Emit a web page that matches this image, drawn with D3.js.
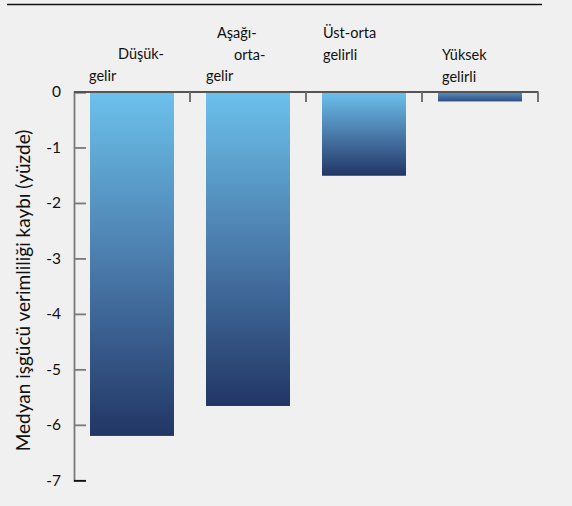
<!DOCTYPE html>
<html>
<head>
<meta charset="utf-8">
<script src="https://cdn.jsdelivr.net/npm/d3@7"></script>
<style>
  html, body { margin: 0; padding: 0; background: #eff0ef; }
  svg { display: block; }
  text { font-family: Lato, "Open Sans", sans-serif; fill: #111; }
</style>
</head>
<body>
<svg id="chart" width="572" height="506"></svg>
<script>
// Income groups, wrapped as in the category labels
const categories = ["Düşük-gelir", "Aşağı-orta-gelir", "Üst-orta gelirli", "Yüksek gelirli"];
const labelLines = [["Düşük-", "gelir"], ["Aşağı-", "orta-", "gelir"], ["Üst-orta", "gelirli"], ["Yüksek", "gelirli"]];
// Median labour productivity loss, percent
const values = [-6.2, -5.66, -1.51, -0.17];
const yTicks = [0, -1, -2, -3, -4, -5, -6, -7];
const yTitle = "Medyan işgücü verimliliği kaybı (yüzde)";

// label line placement inside each band (x offset per line, first baseline)
const labelLayout = [
  { dx: [44, 15], y0: 59 },
  { dx: [27, 44, 16], y0: 38 },
  { dx: [17, 17], y0: 38 },
  { dx: [20, 20], y0: 60 }
];

const svg = d3.select("#chart");

// top rule
svg.append("line")
  .attr("x1", 7).attr("x2", 542).attr("y1", 4.5).attr("y2", 4.5)
  .attr("stroke", "#111").attr("stroke-width", 1.6);

const x = d3.scaleBand().domain(categories).range([74, 538]).padding(0);
const y = d3.scaleLinear().domain([0, -7]).range([92, 480.3]);

const barW = x.bandwidth() * 0.724;

// vertical gradient, light sky blue to navy
const defs = svg.append("defs");
const grad = defs.append("linearGradient").attr("id", "barGrad")
  .attr("x1", 0).attr("y1", 0).attr("x2", 0).attr("y2", 1);
grad.append("stop").attr("offset", "0%").attr("stop-color", "#6cc1ec");
grad.append("stop").attr("offset", "50%").attr("stop-color", "#4a7bab");
grad.append("stop").attr("offset", "100%").attr("stop-color", "#223665");

const gradSmall = defs.append("linearGradient").attr("id", "barGradSmall")
  .attr("x1", 0).attr("y1", 0).attr("x2", 0).attr("y2", 1);
gradSmall.append("stop").attr("offset", "0%").attr("stop-color", "#5c93c6");
gradSmall.append("stop").attr("offset", "100%").attr("stop-color", "#2c4d80");

svg.append("g").selectAll("rect")
  .data(values)
  .join("rect")
  .attr("x", (d, i) => x(categories[i]) + (x.bandwidth() - barW) / 2)
  .attr("y", y(0))
  .attr("width", barW)
  .attr("height", d => y(d) - y(0))
  .attr("fill", d => (y(d) - y(0) < 20 ? "url(#barGradSmall)" : "url(#barGrad)"));

// left value axis
const yAxis = svg.append("g").attr("transform", "translate(74,0)")
  .call(d3.axisRight(y).tickValues(yTicks).tickSize(12).tickFormat(""));
yAxis.select(".domain").attr("stroke", "#7a7a7a").attr("stroke-width", 1.8);
yAxis.selectAll(".tick line").attr("stroke", (d) => d === -7 ? "#111" : "#7a7a7a").attr("stroke-width", 1.8);

svg.append("g").selectAll("text")
  .data(yTicks)
  .join("text")
  .attr("x", 61)
  .attr("y", d => y(d))
  .attr("dy", "0.35em")
  .attr("text-anchor", "end")
  .style("font-size", "15.5px")
  .text(d => d);

// category axis along zero
const xAxis = svg.append("g").attr("transform", `translate(0,${y(0)})`);
xAxis.append("line")
  .attr("x1", 74).attr("x2", 538.5).attr("y1", 0).attr("y2", 0)
  .attr("stroke", "#555").attr("stroke-width", 1.8);
xAxis.selectAll("line.tick")
  .data(categories)
  .join("line")
  .attr("class", "tick")
  .attr("x1", d => x(d) + x.bandwidth()).attr("x2", d => x(d) + x.bandwidth())
  .attr("y1", 0).attr("y2", 10)
  .attr("stroke", "#666").attr("stroke-width", 1.8);

// wrapped category labels above the axis
const lab = svg.append("g").selectAll("text")
  .data(categories)
  .join("text")
  .style("font-size", "14.5px");
lab.each(function (d, i) {
  const t = d3.select(this);
  labelLines[i].forEach((line, j) => {
    t.append("tspan")
      .attr("x", x(d) + labelLayout[i].dx[j])
      .attr("y", labelLayout[i].y0 + j * 21.7)
      .text(line);
  });
});

// axis title
svg.append("text")
  .attr("transform", "translate(29.5,290.5) rotate(-90)")
  .attr("text-anchor", "middle")
  .style("font-size", "19px")
  .text(yTitle);
</script>
</body>
</html>
